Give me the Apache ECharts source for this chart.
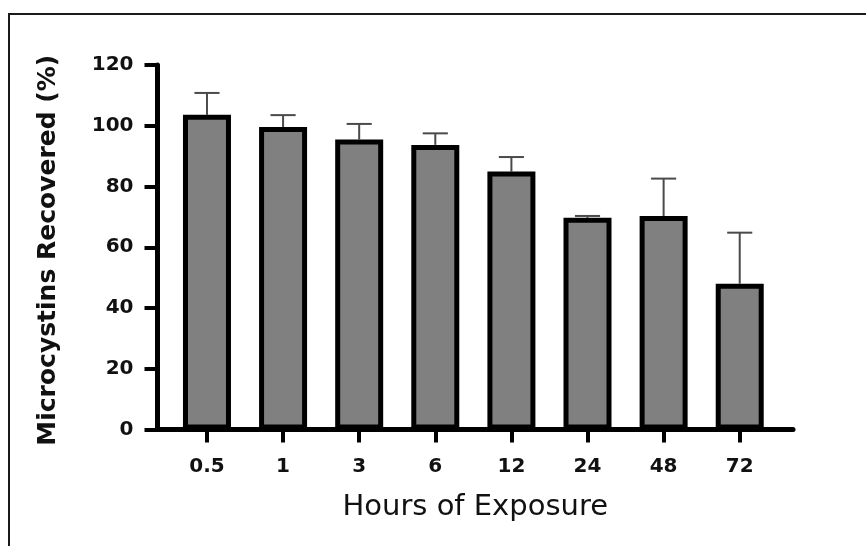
<!DOCTYPE html>
<html>
<head>
<meta charset="utf-8">
<script src="https://cdn.jsdelivr.net/npm/echarts@6/dist/echarts.min.js"></script>
<style>
html,body{margin:0;padding:0;background:#fff;}
#chart{width:866px;height:546px;}
</style>
</head>
<body>
<div id="chart"></div>
<script>
// Data
const categories = ['0.5', '1', '3', '6', '12', '24', '48', '72'];
const recovered = [103.6, 99.6, 95.5, 93.7, 84.9, 69.7, 70.3, 48.0];
const errorUp = [7.2, 3.9, 5.1, 3.8, 4.8, 0.6, 12.3, 16.8];
const yTicks = [0, 20, 40, 60, 80, 100, 120];

const positions = categories.map((c, i) => i);
const barData = recovered.map((v, i) => [i, v]);
const errData = recovered.map((v, i) => [i, v, errorUp[i]]);

const FONT = 'DejaVu Sans';
const chart = echarts.init(document.getElementById('chart'), null, {renderer: 'canvas'});

chart.setOption({
  backgroundColor: '#ffffff',
  animation: false,
  graphic: [{
    type: 'rect',
    shape: {x: 9, y: 14, width: 900, height: 600},
    style: {fill: 'none', stroke: '#1a1a1a', lineWidth: 2},
    silent: true
  }],
  grid: {left: 157.5, right: 73, top: 65, bottom: 116.5},
  xAxis: {
    type: 'value',
    min: -0.65,
    max: 7.7,
    name: 'Hours of Exposure',
    nameLocation: 'middle',
    nameGap: 63,
    nameTextStyle: {fontFamily: FONT, fontSize: 29, color: '#111'},
    axisLine: {show: true, onZero: false, lineStyle: {color: '#000', width: 5}},
    axisTick: {show: true, length: 13, lineStyle: {color: '#000', width: 4}, customValues: positions},
    axisLabel: {
      show: true, margin: 27, customValues: positions,
      fontFamily: FONT, fontWeight: 'bold', fontSize: 20, color: '#111',
      formatter: v => categories[Math.round(v)]
    },
    splitLine: {show: false}
  },
  yAxis: {
    type: 'value',
    min: 0,
    max: 120,
    interval: 20,
    name: 'Microcystins Recovered (%)',
    nameLocation: 'middle',
    nameRotate: 90,
    nameGap: 97,
    nameTextStyle: {fontFamily: FONT, fontWeight: 'bold', fontSize: 25, color: '#111', padding: [0, 6, 0, 0]},
    axisLine: {show: true, onZero: false, lineStyle: {color: '#000', width: 5}},
    axisTick: {show: true, length: 13, lineStyle: {color: '#000', width: 4}},
    axisLabel: {
      margin: 24, fontFamily: FONT, fontWeight: 'bold', fontSize: 20, color: '#111',
      customValues: yTicks
    },
    splitLine: {show: false}
  },
  series: [
    {
      type: 'custom',
      z: 1,
      data: errData,
      renderItem: function (params, api) {
        const x = api.value(0), v = api.value(1), e = api.value(2);
        const p0 = api.coord([x, v]);
        const p1 = api.coord([x, v + e]);
        const w = api.size([1, 0])[0] * 0.33;
        return {
          type: 'group',
          children: [
            {type: 'line', shape: {x1: p0[0], y1: p0[1], x2: p1[0], y2: p1[1]}, style: {stroke: '#4a4a4a', lineWidth: 2}},
            {type: 'line', shape: {x1: p1[0] - w / 2, y1: p1[1], x2: p1[0] + w / 2, y2: p1[1]}, style: {stroke: '#4a4a4a', lineWidth: 2}}
          ]
        };
      }
    },
    {
      type: 'bar',
      z: 2,
      data: barData,
      barWidth: 48,
      itemStyle: {color: '#808080', borderColor: '#000', borderWidth: 5}
    }
  ]
});
</script>
</body>
</html>
